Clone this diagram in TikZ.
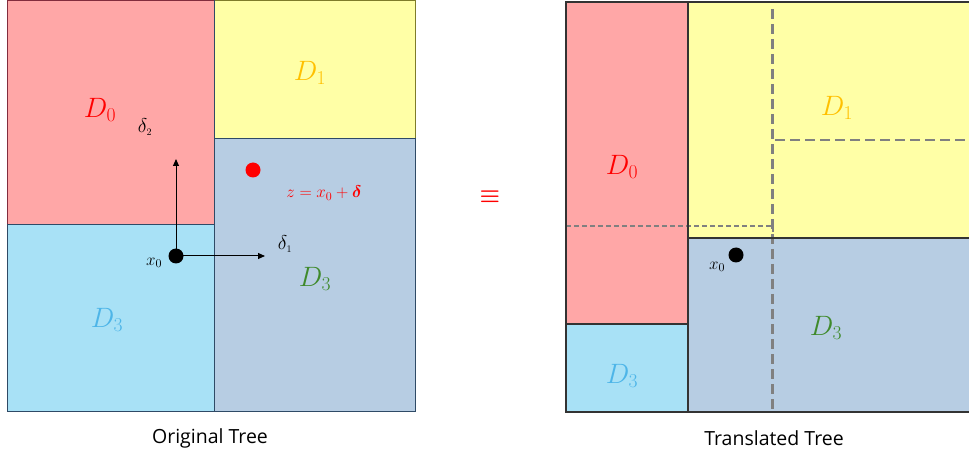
\RequirePackage{fix-cm}
\documentclass[tikz,border=0pt]{standalone}
\usepackage{amsmath,amssymb,bm}
\usepackage{fontspec}
\setmainfont{Open Sans}
\usetikzlibrary{arrows.meta}
\definecolor{cred}{HTML}{FFA7A7}
\definecolor{cyel}{HTML}{FFFFA6}
\definecolor{clb}{HTML}{A8E1F6}
\definecolor{cbg}{HTML}{B7CDE3}
\definecolor{tred}{HTML}{FF0000}
\definecolor{tyel}{HTML}{FFC000}
\definecolor{tgreen}{HTML}{3F8A2B}
\definecolor{tblue}{HTML}{4DB5E8}
\definecolor{edge}{HTML}{2F4A66}
\definecolor{dgray}{HTML}{808080}
\tikzset{
  region/.style={draw=edge, line width=0.8pt},
  regionR/.style={draw=black!80, line width=1.3pt},
  big/.style={font=\fontsize{28}{32}\selectfont, inner sep=0pt},
  small/.style={font=\fontsize{17}{20}\selectfont, inner sep=0pt},
  delta/.style={font=\fontsize{20}{24}\selectfont, inner sep=0pt},
  dotn/.style={circle, fill=#1, minimum size=15pt, inner sep=0pt},
  vec/.style={-{Triangle[length=7pt,width=6pt]}, line width=1pt},
  dline/.style={draw=dgray, line width=2.2pt, dash pattern=on 10pt off 5pt},
  sline/.style={draw=dgray, line width=2pt, dash pattern=on 5pt off 3pt},
  caption/.style={font=\fontsize{19.5}{23}\selectfont, inner sep=0pt}
}
\begin{document}
\begin{tikzpicture}[x=1pt,y=-1pt]
\useasboundingbox (0,0) rectangle (969,454);
% ---- left panel
\fill[cred] (7,0) rectangle (214,224);
\fill[cyel] (214,0) rectangle (415,138);
\fill[cbg] (214,138) rectangle (415,411);
\fill[clb] (7,224) rectangle (214,411);
\draw[region, draw=red!40!edge] (7,224) -- (7,0) -- (214,0);
\draw[region, draw=olive!70!edge] (214,0) -- (415,0) -- (415,138);
\draw[region] (214,0) -- (214,411);
\draw[region] (214,138) -- (415,138) -- (415,411) -- (7,411) -- (7,224) -- (214,224);
\node[big, text=tred] (d0l) at (100,110) {$D_0$};
\node[big, text=tyel] (d1l) at (310,73) {$D_1$};
\node[big, text=tgreen] (d3gl) at (315,279) {$D_3$};
\node[big, text=tblue] (d3bl) at (107,320) {$D_3$};
\node[dotn=black] (x0) at (176,256) {};
\coordinate (e2) at (176,159);
\coordinate (e1) at (265,256);
\draw[vec] (x0.center) -- (e2);
\draw[vec] (x0.center) -- (e1);
\node[small] (x0l) at (154,263) {$x_0$};
\node[delta] (del2) at (145,127) {$\delta_{\scriptscriptstyle 2}$};
\node[delta] (del1) at (285,244) {$\delta_{\scriptscriptstyle 1}$};
\node[dotn=red] (z) at (253,170) {};
\node[small, text=tred] (zl) at (324,193) {$z=x_0+\bm{\delta}$};
\node[caption] (cap1) at (210,438) {Original Tree};
% ---- equivalence
\node[text=red, font=\fontsize{23}{28}\selectfont, inner sep=0pt] (eq) at (490,197) {$\bm{\equiv}$};
% ---- right panel
\fill[cred] (566,2) rectangle (688,324);
\fill[clb] (566,324) rectangle (688,412);
\fill[cyel] (688,2) rectangle (975,238);
\fill[cbg] (688,238) rectangle (975,412);
\draw[dline] (772.5,9) -- (772.5,412);
\draw[dline] (775,140) -- (975,140);
\draw[sline] (566,226) -- (772.5,226) -- (772.5,238);
\draw[regionR] (566,2) rectangle (688,324);
\draw[regionR] (566,324) rectangle (688,412);
\draw[regionR] (688,2) -- (975,2);
\draw[regionR] (688,238) -- (975,238);
\draw[regionR] (688,412) -- (975,412);
\node[big, text=tred] (d0r) at (622,167) {$D_0$};
\node[big, text=tyel] (d1r) at (837,108) {$D_1$};
\node[big, text=tgreen] (d3gr) at (826,328) {$D_3$};
\node[big, text=tblue] (d3br) at (622,376) {$D_3$};
\node[dotn=black] (x0r) at (736,255) {};
\node[small] (x0rl) at (717,267) {$x_0$};
\node[caption] (cap2) at (774,438) {Translated Tree};
\end{tikzpicture}
\end{document}
